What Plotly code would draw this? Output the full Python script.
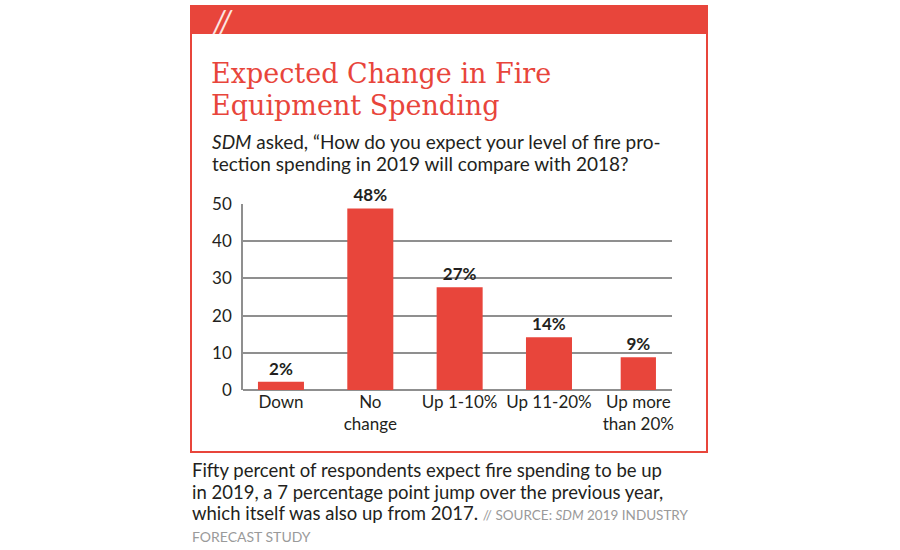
import plotly.graph_objects as go

# ---- data ----
categories = ["Down", "No<br>change", "Up 1-10%", "Up 11-20%", "Up more<br>than 20%"]
values = [2.2, 48.8, 27.6, 14.2, 8.8]
value_labels = ["2%", "48%", "27%", "14%", "9%"]
y_ticks = [0, 10, 20, 30, 40, 50]

# ---- layout helpers ----
W, H = 900, 550
L, R, T, B = 243, 228, 204, 160
PW, PH = W - L - R, H - T - B


def px(x):
    return (x - L) / PW


def py(y):
    return (H - B - y) / PH


RED = "#E8453B"
TXT = "#231F20"
FONT = "Lato"

fig = go.Figure()
fig.add_trace(go.Bar(
    x=categories,
    y=values,
    text=value_labels,
    textposition="outside",
    textfont=dict(family=FONT, size=17, color=TXT, weight="bold"),
    marker=dict(color=RED, line=dict(width=0)),
    width=[0.515, 0.515, 0.515, 0.515, 0.395],
    cliponaxis=False,
    hoverinfo="skip",
))

shapes = [
    dict(type="rect", xref="paper", yref="paper", x0=px(191), x1=px(707), y0=py(452), y1=py(6),
         line=dict(color=RED, width=2), fillcolor="rgba(0,0,0,0)", layer="below"),
    dict(type="rect", xref="paper", yref="paper", x0=px(191), x1=px(707), y0=py(34), y1=py(6),
         line=dict(width=0), fillcolor=RED, layer="below"),
]

annotations = [
    dict(text="//", x=px(210), y=py(20), xanchor="left", yanchor="middle",
         font=dict(family=FONT, size=30, color="#FCE6E2", style="italic")),
    dict(text="Expected Change in Fire", x=px(209), y=py(73.5), xanchor="left", yanchor="middle",
         font=dict(family="DejaVu Serif", size=27, color=RED)),
    dict(text="Equipment Spending", x=px(209), y=py(105), xanchor="left", yanchor="middle",
         font=dict(family="DejaVu Serif", size=27, color=RED)),
    dict(text="<i>SDM</i> asked, \u201cHow do you expect your level of fire pro-",
         x=px(210), y=py(141.5), xanchor="left", yanchor="middle",
         font=dict(family=FONT, size=19, color=TXT)),
    dict(text="tection spending in 2019 will compare with 2018?",
         x=px(210), y=py(163), xanchor="left", yanchor="middle",
         font=dict(family=FONT, size=19, color=TXT)),
    dict(text="Fifty percent of respondents expect fire spending to be up",
         x=px(190), y=py(470), xanchor="left", yanchor="middle",
         font=dict(family=FONT, size=18.5, color=TXT)),
    dict(text="in 2019, a 7 percentage point jump over the previous year,",
         x=px(190), y=py(491.5), xanchor="left", yanchor="middle",
         font=dict(family=FONT, size=18.5, color=TXT)),
    dict(text="which itself was also up from 2017. "
              "<span style='color:#9A9A9A;font-size:13.5px'>// SOURCE: <i>SDM</i> 2019 INDUSTRY</span>",
         x=px(190), y=py(512.5), xanchor="left", yanchor="middle",
         font=dict(family=FONT, size=18.5, color=TXT)),
    dict(text="FORECAST STUDY",
         x=px(190), y=py(536), xanchor="left", yanchor="middle",
         font=dict(family=FONT, size=14, color="#9A9A9A")),
]
for a in annotations:
    a.update(xref="paper", yref="paper", showarrow=False)

fig.update_layout(
    width=W, height=H,
    margin=dict(l=L, r=R, t=T, b=B, pad=0),
    paper_bgcolor="white", plot_bgcolor="white",
    showlegend=False,
    shapes=shapes,
    annotations=annotations,
    font=dict(family=FONT, color=TXT),
    xaxis=dict(
        type="category",
        range=[-0.425, 4.377],
        showgrid=False, showline=False, zeroline=False,
        ticks="", tickfont=dict(family=FONT, size=17, color=TXT),
        fixedrange=True,
    ),
    yaxis=dict(
        range=[0, 50],
        tickvals=y_ticks,
        showgrid=True, gridcolor="#8F8F8F", gridwidth=1.5,
        zeroline=True, zerolinecolor="#8F8F8F", zerolinewidth=1.5,
        showline=True, linecolor="#8F8F8F", linewidth=1.5,
        ticks="", ticklabelstandoff=6,
        tickfont=dict(family=FONT, size=17, color=TXT),
        fixedrange=True,
    ),
)

fig.write_html(
    "out.html",
    config={"displayModeBar": False},
    post_script="document.body.style.margin='0px';document.body.style.overflow='hidden';",
)
